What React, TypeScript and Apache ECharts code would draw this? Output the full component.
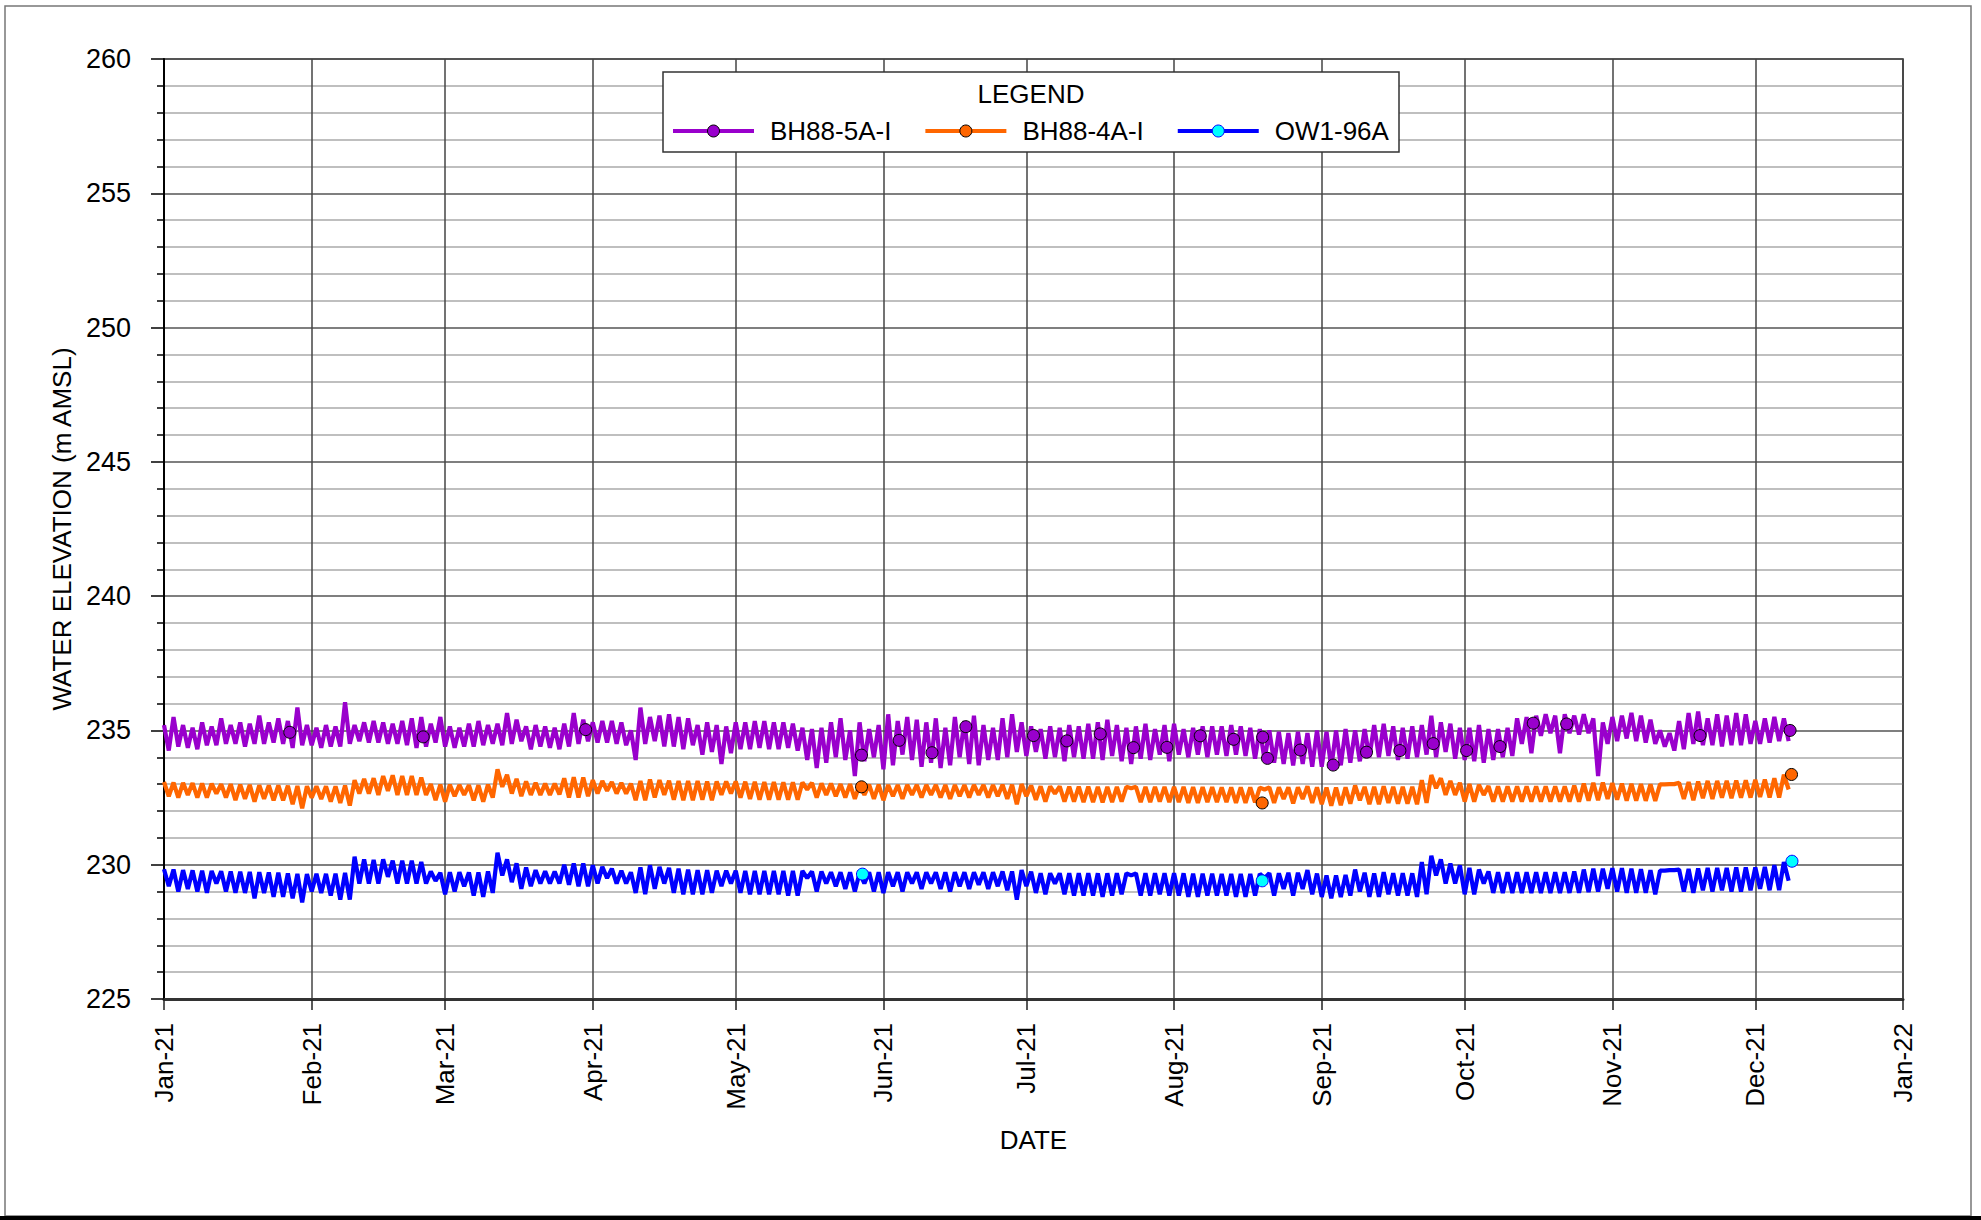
import React, { useEffect, useRef } from "react";
import * as echarts from "echarts";

// ---- axis / label data ----
const MONTH_LABELS = ["Jan", "Feb", "Mar", "Apr", "May", "Jun", "Jul", "Aug", "Sep", "Oct", "Nov", "Dec"];
const Y_MIN = 225;
const Y_MAX = 260;
const Y_STEP = 5;
const SERIES_NAMES = ["BH88-5A-I", "BH88-4A-I", "OW1-96A"];

// Logger records: one upper (top) and one lower (low) reading per 2-day bin,
// bin k covers day 2k (top) and day 2k+1 (low), day 0 = 1 Jan 2021.
const BH88_5A_TOP = [
  235.2, 235.5, 235.2, 235.1, 235.3, 235.15, 235.45, 235.2, 235.3, 235.25,
  235.55, 235.3, 235.45, 235.35, 235.85, 235.2, 235.1, 235.2, 235.15, 236.05,
  235.2, 235.3, 235.35, 235.3, 235.25, 235.35, 235.45, 235.5, 235.25, 235.5,
  235.15, 235.1, 235.25, 235.35, 235.2, 235.25, 235.65, 235.4, 235.15, 235.2,
  235.15, 235.1, 235.25, 235.65, 235.4, 235.3, 235.35, 235.35, 235.3, 235.0,
  235.85, 235.5, 235.55, 235.6, 235.5, 235.45, 235.2, 235.3, 235.2, 235.15,
  235.3, 235.3, 235.35, 235.35, 235.3, 235.3, 235.25, 235.1, 235.05, 235.1,
  235.3, 235.45, 235.0, 235.3, 235.05, 235.2, 235.6, 235.35, 235.5, 235.4,
  235.3, 235.45, 235.1, 235.5, 235.35, 235.55, 235.2, 235.1, 235.45, 235.6,
  235.3, 235.15, 235.05, 235.15, 235.1, 235.2, 235.15, 235.25, 235.3, 235.4,
  235.2, 235.1, 235.15, 235.25, 235.05, 235.2, 235.25, 235.05, 235.1, 235.15,
  235.15, 235.15, 235.2, 235.15, 235.1, 235.05, 235.0, 234.95, 234.9, 234.95,
  234.9, 235.0, 234.95, 235.0, 235.05, 235.0, 235.05, 235.2, 235.25, 235.15,
  235.1, 235.15, 235.2, 235.55, 235.3, 235.25, 235.1, 235.1, 235.2, 235.05,
  235.05, 235.1, 235.45, 235.5, 235.55, 235.6, 235.55, 235.6, 235.55, 235.6,
  235.45, 235.3, 235.5, 235.55, 235.65, 235.55, 235.4, 235.0, 234.9, 235.35,
  235.65, 235.7, 235.45, 235.6, 235.55, 235.65, 235.6, 235.35, 235.45, 235.5,
  235.45,
];
const BH88_5A_LOW = [
  234.25, 234.4, 234.35, 234.3, 234.45, 234.45, 234.5, 234.5, 234.4, 234.5,
  234.5, 234.55, 234.5, 234.35, 234.45, 234.45, 234.35, 234.4, 234.4, 234.5,
  234.6, 234.55, 234.55, 234.5, 234.5, 234.45, 234.35, 234.4, 234.55, 234.4,
  234.35, 234.4, 234.4, 234.45, 234.5, 234.45, 234.5, 234.6, 234.3, 234.4,
  234.35, 234.3, 234.4, 234.5, 234.6, 234.55, 234.55, 234.5, 234.45, 233.9,
  234.5, 234.6, 234.4, 234.4, 234.3, 234.45, 234.1, 234.2, 233.75, 234.15,
  234.3, 234.3, 234.35, 234.3, 234.3, 234.35, 234.25, 233.9, 233.6, 233.8,
  234.0, 233.9, 233.3, 233.85, 234.0, 233.55, 233.7, 234.1, 233.9, 233.65,
  233.8, 233.6, 233.7, 234.0, 233.75, 233.7, 233.9, 233.9, 234.0, 234.2,
  234.05, 234.2, 233.95, 234.0, 233.85, 234.0, 233.95, 233.95, 233.9, 234.05,
  233.85, 233.75, 233.95, 233.9, 234.1, 233.85, 234.1, 234.0, 234.1, 234.0,
  234.1, 234.05, 234.1, 234.05, 233.95, 233.9, 233.8, 233.75, 233.7, 233.75,
  233.65, 233.65, 233.6, 233.7, 233.8, 233.85, 234.0, 234.0, 234.05, 233.9,
  233.95, 234.0, 234.1, 234.0, 234.2, 233.95, 233.9, 233.85, 233.8, 233.9,
  234.0, 234.05, 234.5, 234.15, 234.8, 234.9, 234.15, 234.9, 234.85, 234.9,
  233.3, 234.5, 234.6, 234.7, 234.6, 234.55, 234.5, 234.4, 234.25, 234.3,
  234.5, 234.45, 234.45, 234.4, 234.45, 234.45, 234.5, 234.5, 234.55, 234.6,
  234.6,
];
const BH88_4A_TOP = [
  233.08, 233.06, 233.05, 233.04, 233.03, 233.02, 233.0, 233.0, 232.98, 232.97,
  232.96, 232.95, 232.95, 232.94, 232.93, 232.92, 232.92, 232.92, 232.92, 232.95,
  233.15, 233.2, 233.22, 233.3, 233.33, 233.3, 233.3, 233.25, 233.0, 232.98,
  232.98, 232.97, 232.96, 232.96, 232.98, 233.55, 233.35, 233.2, 233.1, 233.05,
  233.02, 233.02, 233.22, 233.26, 233.25, 233.15, 233.12, 233.08, 233.05, 233.02,
  233.12, 233.17, 233.15, 233.13, 233.12, 233.12, 233.12, 233.1, 233.1, 233.1,
  233.1, 233.09, 233.09, 233.08, 233.08, 233.07, 233.07, 233.06, 233.05, 233.03,
  233.02, 233.0, 233.0, 232.98, 232.98, 232.98, 232.97, 232.97, 232.97, 232.97,
  232.97, 232.97, 232.97, 232.97, 232.97, 232.97, 232.97, 232.97, 232.98, 232.98,
  233.0, 232.95, 232.92, 232.92, 232.92, 232.91, 232.91, 232.91, 232.9, 232.9,
  232.9, 232.9, 232.9, 232.9, 232.9, 232.9, 232.9, 232.9, 232.89, 232.89,
  232.89, 232.88, 232.88, 232.88, 232.88, 232.87, 232.88, 232.88, 232.88, 232.88,
  232.92, 232.88, 232.87, 232.87, 232.88, 232.95, 232.9, 232.9, 232.92, 232.9,
  232.9, 232.9, 233.15, 233.34, 233.22, 233.12, 233.05, 233.0, 232.97, 232.93,
  232.92, 232.92, 232.92, 232.92, 232.92, 232.92, 232.92, 232.92, 232.95, 233.02,
  233.05, 233.06, 233.04, 233.02, 233.01, 233.0, 232.99, 232.99, 233.0, 233.05,
  233.08, 233.1, 233.12, 233.12, 233.12, 233.13, 233.14, 233.16, 233.17, 233.22,
  233.35,
];
const BH88_4A_LOW = [
  232.55, 232.5, 232.6, 232.5, 232.5, 232.65, 232.5, 232.4, 232.45, 232.35,
  232.45, 232.4, 232.4, 232.25, 232.1, 232.5, 232.45, 232.35, 232.3, 232.2,
  232.65, 232.65, 232.6, 232.75, 232.6, 232.6, 232.6, 232.6, 232.4, 232.35,
  232.55, 232.6, 232.4, 232.35, 232.5, 232.9, 232.65, 232.55, 232.6, 232.6,
  232.6, 232.62, 232.5, 232.5, 232.55, 232.65, 232.75, 232.65, 232.65, 232.4,
  232.4, 232.5, 232.6, 232.42, 232.4, 232.4, 232.42, 232.4, 232.6, 232.65,
  232.5, 232.45, 232.42, 232.42, 232.42, 232.42, 232.42, 232.8, 232.5, 232.6,
  232.55, 232.5, 232.45, 232.6, 232.45, 232.4, 232.55, 232.45, 232.6, 232.5,
  232.6, 232.5, 232.45, 232.55, 232.5, 232.6, 232.5, 232.55, 232.45, 232.25,
  232.55, 232.42, 232.35, 232.65, 232.35, 232.35, 232.33, 232.33, 232.32, 232.33,
  232.35, 232.85, 232.33, 232.33, 232.35, 232.33, 232.33, 232.3, 232.3, 232.33,
  232.33, 232.33, 232.3, 232.3, 232.32, 232.8, 232.3, 232.45, 232.28, 232.45,
  232.3, 232.25, 232.2, 232.22, 232.27, 232.4, 232.25, 232.25, 232.3, 232.27,
  232.27, 232.25, 232.3, 232.85, 232.6, 232.6, 232.35, 232.35, 232.6, 232.35,
  232.35, 232.35, 232.35, 232.35, 232.35, 232.35, 232.35, 232.35, 232.35, 232.38,
  232.4, 232.45, 232.42, 232.38, 232.38, 232.38, 232.38, 232.99, 233.0, 232.45,
  232.4, 232.48, 232.45, 232.5, 232.48, 232.5, 232.5, 232.52, 232.5, 232.5,
  232.8,
];
const OW1_96A_TOP = [
  229.83, 229.82, 229.8, 229.79, 229.78, 229.77, 229.76, 229.75, 229.74, 229.73,
  229.72, 229.71, 229.7, 229.68, 229.66, 229.65, 229.66, 229.66, 229.67, 229.7,
  230.3, 230.2, 230.18, 230.2, 230.15, 230.15, 230.15, 230.1, 229.75, 229.7,
  229.72, 229.72, 229.71, 229.71, 229.75, 230.45, 230.2, 230.05, 229.9, 229.8,
  229.76, 229.75, 230.0, 230.05, 230.05, 229.98, 229.92, 229.85, 229.78, 229.72,
  229.9, 229.98, 229.92, 229.88, 229.85, 229.82, 229.8, 229.8, 229.78, 229.78,
  229.78, 229.77, 229.77, 229.77, 229.77, 229.77, 229.77, 229.77, 229.75, 229.75,
  229.72, 229.72, 229.72, 229.7, 229.72, 229.72, 229.72, 229.72, 229.72, 229.72,
  229.72, 229.72, 229.72, 229.72, 229.72, 229.72, 229.72, 229.72, 229.75, 229.75,
  229.8, 229.74, 229.68, 229.68, 229.68, 229.68, 229.68, 229.68, 229.68, 229.68,
  229.68, 229.68, 229.68, 229.68, 229.68, 229.68, 229.68, 229.68, 229.67, 229.67,
  229.67, 229.66, 229.66, 229.66, 229.66, 229.66, 229.68, 229.68, 229.7, 229.7,
  229.8, 229.67, 229.6, 229.6, 229.62, 229.82, 229.7, 229.68, 229.72, 229.68,
  229.68, 229.68, 230.1, 230.33, 230.2, 230.05, 229.98, 229.88, 229.82, 229.75,
  229.72, 229.72, 229.72, 229.72, 229.72, 229.72, 229.72, 229.72, 229.75, 229.82,
  229.85, 229.85, 229.87, 229.87, 229.85, 229.83, 229.8, 229.78, 229.8, 229.82,
  229.84, 229.86, 229.88, 229.88, 229.88, 229.9, 229.9, 229.9, 229.92, 229.98,
  230.1,
];
const OW1_96A_LOW = [
  229.2, 229.0, 229.1, 229.0, 228.95, 229.3, 229.0, 228.95, 228.95, 228.75,
  228.95, 228.8, 228.8, 228.75, 228.6, 229.0, 228.95, 228.85, 228.7, 228.7,
  229.3, 229.3, 229.3, 229.55, 229.3, 229.3, 229.3, 229.3, 229.4, 228.9,
  229.0, 229.2, 228.85, 228.8, 228.95, 229.6, 229.35, 229.1, 229.2, 229.3,
  229.3, 229.3, 229.25, 229.2, 229.2, 229.3, 229.5, 229.3, 229.3, 228.95,
  228.9, 229.1, 229.3, 228.95, 228.9, 228.9, 228.9, 228.95, 229.2, 229.3,
  228.95, 228.9, 228.9, 228.9, 228.9, 228.85, 228.85, 229.5, 229.0, 229.3,
  229.2, 229.1, 229.0, 229.3, 229.0, 228.95, 229.2, 229.0, 229.3, 229.1,
  229.3, 229.1, 229.0, 229.2, 229.1, 229.25, 229.1, 229.2, 229.05, 228.7,
  229.2, 228.95, 228.9, 229.3, 228.9, 228.85, 228.85, 228.85, 228.8, 228.85,
  228.9, 229.6, 228.85, 228.85, 228.9, 228.85, 228.85, 228.8, 228.8, 228.85,
  228.85, 228.85, 228.8, 228.8, 228.85, 229.5, 228.85, 229.1, 228.85, 229.1,
  228.9, 228.8, 228.75, 228.8, 228.85, 229.0, 228.8, 228.8, 228.9, 228.85,
  228.85, 228.8, 228.9, 229.6, 229.3, 229.3, 228.9, 228.9, 229.3, 228.95,
  228.95, 228.95, 228.95, 228.95, 228.95, 228.95, 228.95, 228.95, 228.95, 228.98,
  229.0, 229.1, 229.0, 228.95, 228.95, 228.95, 228.9, 229.78, 229.8, 229.0,
  228.95, 229.05, 229.0, 229.05, 229.0, 229.0, 229.05, 229.1, 229.05, 229.05,
  229.4,
];

// Manual (hand) measurements: day offset from 1 Jan 2021 and elevation
const BH88_5A_MANUAL_DAY = [
  26.4, 54.4, 88.5, 146.4, 154.3, 161.2, 168.3, 182.5, 189.5, 196.5, 203.5, 210.5, 217.5, 224.5,
  230.6, 231.6, 238.5, 245.4, 252.4, 259.4, 266.4, 273.4, 280.4, 287.4, 294.4, 322.4, 341.3,
];
const BH88_5A_MANUAL_VAL = [
  234.93, 234.76, 235.03, 234.08, 234.63, 234.17, 235.14, 234.81, 234.61, 234.87, 234.36, 234.37, 234.8, 234.67,
  234.75, 233.96, 234.27, 233.71, 234.19, 234.25, 234.51, 234.25, 234.4, 235.27, 235.24, 234.81, 235.0,
];
const BH88_4A_MANUAL_DAY = [146.4, 230.5, 341.6];
const BH88_4A_MANUAL_VAL = [232.9, 232.3, 233.36];
const OW1_96A_MANUAL_DAY = [146.6, 230.5, 341.7];
const OW1_96A_MANUAL_VAL = [229.65, 229.4, 230.13];

const FONT = "'Liberation Sans', Arial, sans-serif";
const DAY_MS = 86400000;
const START = new Date(2021, 0, 1).getTime();
const END = new Date(2022, 0, 1).getTime();

function buildLine(top: number[], low: number[]) {
  const out: [number, number][] = [];
  for (let k = 0; k < top.length; k++) {
    out.push([START + 2 * k * DAY_MS, top[k]]);
    out.push([START + (2 * k + 1) * DAY_MS, low[k]]);
  }
  return out;
}
function buildManual(days: number[], vals: number[]) {
  return days.map((d, i) => [START + d * DAY_MS, vals[i]]);
}

export default function App() {
  const ref = useRef<HTMLDivElement>(null);
  useEffect(() => {
    document.body.style.margin = "0";
    if (!ref.current) return;
    const chart = echarts.init(ref.current, undefined, { renderer: "svg" });
    const textBase = { fontFamily: FONT, color: "#000" };
    const LW = 4.2;
    chart.setOption({
      animation: false,
      backgroundColor: "#fff",
      grid: {
        left: 164,
        top: 59,
        width: 1739,
        height: 940,
        show: true,
        borderColor: "#222",
        borderWidth: 1.5,
        containLabel: false,
      },
      xAxis: {
        type: "time",
        min: START,
        max: END,
        splitNumber: 12,
        minInterval: 28 * DAY_MS,
        maxInterval: 31 * DAY_MS,
        name: "DATE",
        nameLocation: "middle",
        nameGap: 128,
        nameTextStyle: { ...textBase, fontSize: 26 },
        axisLine: { show: true, lineStyle: { color: "#333", width: 3 } },
        axisTick: { show: true, length: 11, lineStyle: { color: "#222", width: 1.5 } },
        axisLabel: {
          ...textBase,
          fontSize: 26,
          rotate: 90,
          margin: 24,
          showMinLabel: true,
          showMaxLabel: true,
          formatter: (v: number) => {
            const d = new Date(v);
            return MONTH_LABELS[d.getMonth()] + "-" + String(d.getFullYear()).slice(2);
          },
        },
        splitLine: { show: true, lineStyle: { color: "#444", width: 1.5 } },
      },
      yAxis: {
        type: "value",
        min: Y_MIN,
        max: Y_MAX,
        interval: Y_STEP,
        name: "WATER ELEVATION (m AMSL)",
        nameLocation: "middle",
        nameGap: 88,
        nameRotate: 90,
        nameTextStyle: { ...textBase, fontSize: 26 },
        axisLine: { show: true, lineStyle: { color: "#000", width: 2 } },
        axisTick: { show: true, length: 13, lineStyle: { color: "#000", width: 1.5 } },
        minorTick: { show: true, splitNumber: 5, length: 7, lineStyle: { color: "#000", width: 1.5 } },
        axisLabel: { ...textBase, fontSize: 27, margin: 33 },
        splitLine: { show: true, lineStyle: { color: "#555", width: 1.5 } },
        minorSplitLine: { show: true, lineStyle: { color: "#aaa", width: 1.5 } },
      },
      legend: {
        left: 666,
        top: 113,
        z: 6,
        itemWidth: 81,
        itemHeight: 15,
        itemGap: 32,
        lineStyle: { width: 4 },
        textStyle: { ...textBase, fontSize: 26, padding: [0, 0, 0, 11] },
        data: [
          { name: SERIES_NAMES[0], lineStyle: { width: 4, color: "#9900CC" }, itemStyle: { color: "#9900CC", borderColor: "#000", borderWidth: 1 } },
          { name: SERIES_NAMES[1], lineStyle: { width: 4, color: "#FF6600" }, itemStyle: { color: "#FF6600", borderColor: "#000", borderWidth: 1 } },
          { name: SERIES_NAMES[2], lineStyle: { width: 4, color: "#0000FF" }, itemStyle: { color: "#00FFFF", borderColor: "#0000FF", borderWidth: 1 } },
        ],
      },
      graphic: [
        { type: "rect", z: 0, silent: true, shape: { x: 5, y: 6, width: 1966, height: 1210 }, style: { fill: "none", stroke: "#777", lineWidth: 1.5 } },
        { type: "rect", z: 0, silent: true, shape: { x: 0, y: 1216, width: 1981, height: 4 }, style: { fill: "#000" } },
        { type: "rect", z: 3, silent: true, shape: { x: 663, y: 72, width: 736, height: 80 }, style: { fill: "#fff", stroke: "#333", lineWidth: 1.5 } },
        { type: "text", z: 6, silent: true, x: 1031, y: 94, style: { text: "LEGEND", fontSize: 26, fontFamily: FONT, fill: "#000", textAlign: "center", textVerticalAlign: "middle" } },
      ],
      series: [
        {
          name: SERIES_NAMES[2], type: "line", data: buildLine(OW1_96A_TOP, OW1_96A_LOW),
          showSymbol: false, symbol: "circle", symbolSize: 12, z: 2,
          lineStyle: { color: "#0000FF", width: LW }, itemStyle: { color: "#0000FF" },
        },
        {
          name: SERIES_NAMES[1], type: "line", data: buildLine(BH88_4A_TOP, BH88_4A_LOW),
          showSymbol: false, symbol: "circle", symbolSize: 12, z: 2,
          lineStyle: { color: "#FF6600", width: LW }, itemStyle: { color: "#FF6600" },
        },
        {
          name: SERIES_NAMES[0], type: "line", data: buildLine(BH88_5A_TOP, BH88_5A_LOW),
          showSymbol: false, symbol: "circle", symbolSize: 12, z: 2,
          lineStyle: { color: "#9900CC", width: LW }, itemStyle: { color: "#9900CC" },
        },
        {
          name: "BH88-5A-I manual", type: "scatter", data: buildManual(BH88_5A_MANUAL_DAY, BH88_5A_MANUAL_VAL),
          symbol: "circle", symbolSize: 12, z: 5,
          itemStyle: { color: "#9900CC", borderColor: "#000", borderWidth: 1, opacity: 1 },
        },
        {
          name: "BH88-4A-I manual", type: "scatter", data: buildManual(BH88_4A_MANUAL_DAY, BH88_4A_MANUAL_VAL),
          symbol: "circle", symbolSize: 12, z: 5,
          itemStyle: { color: "#FF6600", borderColor: "#000", borderWidth: 1, opacity: 1 },
        },
        {
          name: "OW1-96A manual", type: "scatter", data: buildManual(OW1_96A_MANUAL_DAY, OW1_96A_MANUAL_VAL),
          symbol: "circle", symbolSize: 12, z: 5,
          itemStyle: { color: "#00FFFF", borderColor: "#0000FF", borderWidth: 1, opacity: 1 },
        },
      ],
    });
    return () => chart.dispose();
  }, []);
  return <div ref={ref} style={{ width: 1981, height: 1220 }} />;
}
